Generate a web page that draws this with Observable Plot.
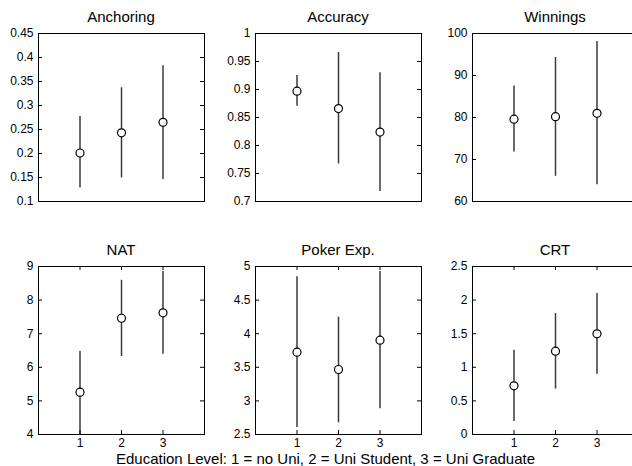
<!DOCTYPE html>
<html>
<head>
<meta charset="utf-8">
<script src="https://cdn.jsdelivr.net/npm/d3@7"></script>
<script src="https://cdn.jsdelivr.net/npm/@observablehq/plot@0.6"></script>
<style>
  html, body { margin: 0; padding: 0; background: #fff; }
  #root { position: relative; width: 632px; height: 466px; overflow: hidden; background: #fff;
          font-family: "Liberation Sans", Arial, Helvetica, sans-serif; }
  .panel { position: absolute; }
  .title { position: absolute; font-size: 15px; color: #000; text-align: center; white-space: nowrap; }
  .xlabel { position: absolute; font-size: 15px; color: #000; white-space: nowrap; }
</style>
</head>
<body>
<div id="root"></div>
<script>
// ---- data ----
const levels = [1, 2, 3];
const xTicks = [1, 2, 3];

const titles = ["Anchoring", "Accuracy", "Winnings", "NAT", "Poker Exp.", "CRT"];

const anchoringMean = [0.201, 0.243, 0.265];
const anchoringLo   = [0.128, 0.149, 0.146];
const anchoringHi   = [0.277, 0.337, 0.383];
const anchoringTicks = [0.1, 0.15, 0.2, 0.25, 0.3, 0.35, 0.4, 0.45];

const accuracyMean = [0.897, 0.866, 0.824];
const accuracyLo   = [0.870, 0.767, 0.718];
const accuracyHi   = [0.925, 0.966, 0.930];
const accuracyTicks = [0.7, 0.75, 0.8, 0.85, 0.9, 0.95, 1];

const winningsMean = [79.6, 80.2, 81.0];
const winningsLo   = [71.8, 66.0, 64.0];
const winningsHi   = [87.5, 94.3, 98.1];
const winningsTicks = [60, 70, 80, 90, 100];

const natMean = [5.26, 7.46, 7.62];
const natLo   = [4.0, 6.32, 6.39];
const natHi   = [6.47, 8.59, 8.85];
const natTicks = [4, 5, 6, 7, 8, 9];

const pokerMean = [3.725, 3.467, 3.904];
const pokerLo   = [2.604, 2.674, 2.882];
const pokerHi   = [4.846, 4.246, 4.926];
const pokerTicks = [2.5, 3, 3.5, 4, 4.5, 5];

const crtMean = [0.724, 1.24, 1.498];
const crtLo   = [0.193, 0.675, 0.898];
const crtHi   = [1.255, 1.80, 2.098];
const crtTicks = [0, 0.5, 1, 1.5, 2, 2.5];

const xLabelText = "Education Level: 1 = no Uni, 2 = Uni Student, 3 = Uni Graduate";

// ---- layout ----
const series = [
  [anchoringMean, anchoringLo, anchoringHi, anchoringTicks],
  [accuracyMean, accuracyLo, accuracyHi, accuracyTicks],
  [winningsMean, winningsLo, winningsHi, winningsTicks],
  [natMean, natLo, natHi, natTicks],
  [pokerMean, pokerLo, pokerHi, pokerTicks],
  [crtMean, crtLo, crtHi, crtTicks]
];
const colLefts = [38, 255, 472];
const rowTops = [33, 266];
const boxW = 166, boxH = 168;
const mL = 44, mR = 2, mT = 2;
const fmt = d => String(+d.toFixed(2));

const root = document.getElementById("root");

series.forEach(([mean, lo, hi, ticks], i) => {
  const row = Math.floor(i / 3), col = i % 3;
  const bottom = row === 1;
  const mB = bottom ? 16 : 2;
  const data = levels.map((x, j) => ({x, mean: mean[j], lo: lo[j], hi: hi[j]}));
  const marks = [
    Plot.ruleX(data, {x: "x", y1: "lo", y2: "hi", stroke: "#3a3a3a", strokeWidth: 1.5}),
    Plot.dot(data, {x: "x", y: "mean", r: 4, stroke: "#000", fill: "white", strokeWidth: 1.2}),
    Plot.tickY(ticks, {y: d => d, insetRight: boxW - 4, stroke: "#000", strokeWidth: 1}),
    Plot.tickY(ticks, {y: d => d, insetLeft: boxW - 4, stroke: "#000", strokeWidth: 1}),
    Plot.axisY({ticks, tickSize: 0, tickPadding: 5, tickFormat: fmt, fill: "#000", label: null}),
    Plot.frame({stroke: "#000", strokeWidth: 1})
  ];
  if (bottom) {
    marks.push(
      Plot.tickX(xTicks, {x: d => d, insetTop: boxH - 4, stroke: "#000", strokeWidth: 1}),
      Plot.tickX(xTicks, {x: d => d, insetBottom: boxH - 4, stroke: "#000", strokeWidth: 1}),
      Plot.axisX({ticks: xTicks, tickSize: 0, tickPadding: 4, tickFormat: d => String(d), fill: "#000", label: null})
    );
  }
  const chart = Plot.plot({
    width: boxW + mL + mR,
    height: boxH + mT + mB,
    marginLeft: mL, marginRight: mR, marginTop: mT, marginBottom: mB,
    style: {fontSize: "12px", fontFamily: "'Liberation Sans', Arial, sans-serif", background: "transparent", color: "#000", overflow: "visible"},
    x: {domain: [0, 4], axis: null, label: null},
    y: {domain: [ticks[0], ticks[ticks.length - 1]], axis: null, label: null},
    marks
  });
  chart.classList.add("panel");
  chart.style.left = (colLefts[col] - mL) + "px";
  chart.style.top = (rowTops[row] - mT) + "px";
  root.appendChild(chart);

  const t = document.createElement("div");
  t.className = "title";
  t.textContent = titles[i];
  t.style.left = colLefts[col] + "px";
  t.style.width = boxW + "px";
  t.style.top = (rowTops[row] - 9 - 15) + "px";
  t.style.lineHeight = "15px";
  root.appendChild(t);
});

const xl = document.createElement("div");
xl.className = "xlabel";
xl.textContent = xLabelText;
xl.style.left = "116px";
xl.style.top = "451px";
xl.style.lineHeight = "15px";
root.appendChild(xl);
</script>
</body>
</html>
